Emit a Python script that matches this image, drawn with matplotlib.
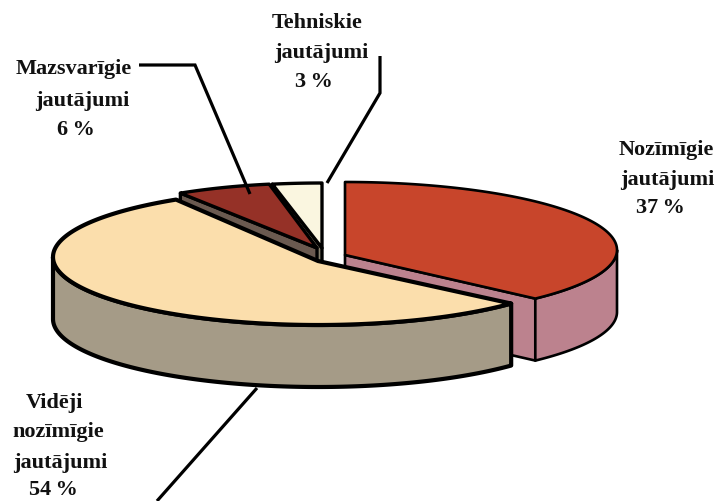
import matplotlib
matplotlib.use('Agg')
import matplotlib.pyplot as plt
import numpy as np

values = [37, 54, 6, 3]
top_colors = ['#C8452B', '#FBDEAC', '#953127', '#FAF6E0']
wall_colors = ['#BC828E', '#A59B87', '#6B5A50', '#8A8470']

# exploded pie: tip and ellipse centre of each slice, in pixels of the picture
tips = [(345, 255), (318, 261), (317, 248), (322, 248)]
centers = [(345, 250), (318, 257), (317, 248), (322, 248)]
rad_x = [272, 265, 255, 265]
rad_y = [68, 68, 65, 65]
line_w = [1.9, 3.0, 2.4, 2.4]
end_fix = [2.4, 0, 0, 0]  # the perspective of the original squeezes this slice a little
depth = 62
draw_order = [3, 2, 0, 1]

label_lines = [
    ('Nozīmīgie', 666, 150), ('jautājumi', 667, 180), ('37\u2009%', 660, 208),
    ('Vidēji', 55, 403), ('nozīmīgie', 58, 432), ('jautājumi', 60, 463), ('54\u2009%', 53, 490),
    ('Mazsvarīgie', 74, 69), ('jautājumi', 82, 101), ('6\u2009%', 76, 130),
    ('Tehniskie', 317, 23), ('jautājumi', 321, 53), ('3\u2009%', 314, 82),
]
leaders = [
    ([139, 195, 250], [65, 65, 194]),
    ([380, 380, 327], [56, 93, 183]),
    ([257, 157], [388, 501]),
]

# angles clockwise from the top of the pie
ends = np.cumsum(values) / np.sum(values) * 360
starts = np.concatenate([[0], ends[:-1]])


def arc(i, a, b):
    t = np.radians(np.linspace(a, b, 200))
    cx, cy = centers[i]
    return cx + rad_x[i] * np.sin(t), cy - rad_y[i] * np.cos(t)


def side(ax, i, xs, ys):
    px = np.concatenate([xs, xs[::-1]])
    py = np.concatenate([ys, ys[::-1] + depth])
    ax.fill(px, py, facecolor=wall_colors[i], edgecolor='black', lw=line_w[i], joinstyle='round')


fig = plt.figure(figsize=(7.17, 5.01), dpi=100)
ax = fig.add_axes([0, 0, 1, 1])
ax.set_xlim(0, 717)
ax.set_ylim(501, 0)
ax.axis('off')

for i in draw_order:
    s, e = starts[i], ends[i] + end_fix[i]
    tx, ty = tips[i]
    # straight cut walls that face the viewer
    if 0 < e < 180:
        x, y = arc(i, e, e)
        side(ax, i, np.array([tx, x[0]]), np.array([ty, y[0]]))
    if 180 < s < 360:
        x, y = arc(i, s, s)
        side(ax, i, np.array([x[0], tx]), np.array([y[0], ty]))
    # outer rim, front half only
    a, b = max(s, 90), min(e, 270)
    if a < b:
        x, y = arc(i, a, b)
        side(ax, i, x, y)
    # top face
    x, y = arc(i, s, e)
    ax.fill(np.r_[tx, x], np.r_[ty, y], facecolor=top_colors[i], edgecolor='black',
            lw=line_w[i], joinstyle='round')

for lx, ly in leaders:
    ax.plot(lx, ly, color='black', lw=2.3, solid_joinstyle='miter', solid_capstyle='butt', clip_on=False)

for txt, x, y in label_lines:
    ax.text(x, y, txt, ha='center', va='center', family='Liberation Serif',
            fontweight='bold', fontsize=16, color='#111111')

fig.savefig('out.png', dpi=100)
